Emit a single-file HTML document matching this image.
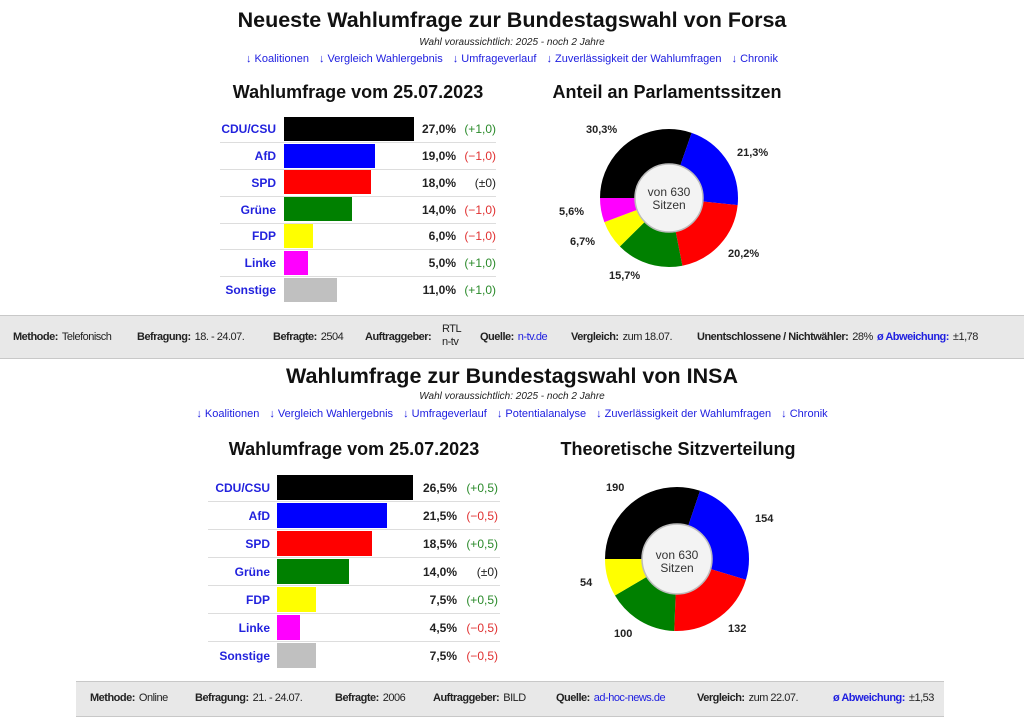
<!DOCTYPE html>
<html><head><meta charset="utf-8"><style>
body{margin:0;width:1024px;height:717px;background:#fff;font-family:"Liberation Sans",Arial,sans-serif;position:relative;overflow:hidden;color:#222}
.a{position:absolute;white-space:nowrap}
.t{font-weight:bold;font-size:21.5px;color:#111;text-align:center;left:0;width:1024px}
.s{font-style:italic;font-size:10px;text-align:center;left:0;width:1024px;color:#222}
.l{font-size:11px;color:#2020e0;text-align:center;left:0;width:1024px;word-spacing:0px}
.l span{margin:0 5px}
.h{font-weight:bold;font-size:18px;color:#111;text-align:center}
.row{position:absolute;height:1px;background:#ddd}
.pl{position:absolute;font-weight:bold;font-size:12px;color:#2222dd;text-align:right}
.bar{position:absolute}
.pv{position:absolute;font-weight:bold;font-size:12px;color:#222;text-align:right}
.pc{position:absolute;font-size:12px;text-align:right}
.g{color:#2a8a2a}.r{color:#e03030}.k{color:#222}
.f{position:absolute;background:#e8e8e8;border-top:1px solid #c8c8c8;border-bottom:1px solid #c8c8c8;font-size:11px;color:#222;letter-spacing:-0.5px}
.f b{font-weight:bold;margin-right:4px}
.f .it{position:absolute;top:14px;white-space:nowrap}
.bl{color:#2020e0}
.dl{position:absolute;font-weight:bold;font-size:11px;color:#222}
</style></head><body>

<div class="a t" style="top:8px">Neueste Wahlumfrage zur Bundestagswahl von Forsa</div>
<div class="a s" style="top:37px">Wahl voraussichtlich: 2025 - noch 2 Jahre</div>
<div class="a l" style="top:53px"><span>↓ Koalitionen</span><span>↓ Vergleich Wahlergebnis</span><span>↓ Umfrageverlauf</span><span>↓ Zuverlässigkeit der Wahlumfragen</span><span>↓ Chronik</span></div>
<div class="a h" style="left:208px;width:300px;top:82px">Wahlumfrage vom 25.07.2023</div>
<div class="a h" style="left:517px;width:300px;top:82px">Anteil an Parlamentssitzen</div>

<div class="row" style="left:220px;width:276px;top:142px"></div>
<div class="row" style="left:220px;width:276px;top:169px"></div>
<div class="row" style="left:220px;width:276px;top:196px"></div>
<div class="row" style="left:220px;width:276px;top:223px"></div>
<div class="row" style="left:220px;width:276px;top:249px"></div>
<div class="row" style="left:220px;width:276px;top:276px"></div>
<div class="pl" style="left:180px;width:96px;top:122px">CDU/CSU</div>
<div class="pl" style="left:180px;width:96px;top:149px">AfD</div>
<div class="pl" style="left:180px;width:96px;top:176px">SPD</div>
<div class="pl" style="left:180px;width:96px;top:203px">Grüne</div>
<div class="pl" style="left:180px;width:96px;top:229px">FDP</div>
<div class="pl" style="left:180px;width:96px;top:256px">Linke</div>
<div class="pl" style="left:180px;width:96px;top:283px">Sonstige</div>
<div class="bar" style="left:284px;top:117px;width:130px;height:24px;background:#000"></div>
<div class="bar" style="left:284px;top:144px;width:91px;height:24px;background:#00f"></div>
<div class="bar" style="left:284px;top:170px;width:87px;height:24px;background:#f00"></div>
<div class="bar" style="left:284px;top:197px;width:68px;height:24px;background:#008000"></div>
<div class="bar" style="left:284px;top:224px;width:29px;height:24px;background:#ff0"></div>
<div class="bar" style="left:284px;top:251px;width:24px;height:24px;background:#f0f"></div>
<div class="bar" style="left:284px;top:278px;width:53px;height:24px;background:#c0c0c0"></div>
<div class="pv" style="left:396px;width:60px;top:122px">27,0%</div>
<div class="pv" style="left:396px;width:60px;top:149px">19,0%</div>
<div class="pv" style="left:396px;width:60px;top:176px">18,0%</div>
<div class="pv" style="left:396px;width:60px;top:203px">14,0%</div>
<div class="pv" style="left:396px;width:60px;top:229px">6,0%</div>
<div class="pv" style="left:396px;width:60px;top:256px">5,0%</div>
<div class="pv" style="left:396px;width:60px;top:283px">11,0%</div>
<div class="pc g" style="left:446px;width:50px;top:122px">(+1,0)</div>
<div class="pc r" style="left:446px;width:50px;top:149px">(−1,0)</div>
<div class="pc k" style="left:446px;width:50px;top:176px">(±0)</div>
<div class="pc r" style="left:446px;width:50px;top:203px">(−1,0)</div>
<div class="pc r" style="left:446px;width:50px;top:229px">(−1,0)</div>
<div class="pc g" style="left:446px;width:50px;top:256px">(+1,0)</div>
<div class="pc g" style="left:446px;width:50px;top:283px">(+1,0)</div>

<svg class="a" style="left:0;top:0" width="1024" height="717">
<g transform="rotate(180 669 198)" fill="none" stroke-width="35">
<circle cx="669" cy="198" r="51.5" stroke="#000" stroke-dasharray="98.04 400" stroke-dashoffset="0"/>
<circle cx="669" cy="198" r="51.5" stroke="#00f" stroke-dasharray="68.92 400" stroke-dashoffset="-98.04"/>
<circle cx="669" cy="198" r="51.5" stroke="#f00" stroke-dasharray="65.36 400" stroke-dashoffset="-166.96"/>
<circle cx="669" cy="198" r="51.5" stroke="#008000" stroke-dasharray="50.80 400" stroke-dashoffset="-232.32"/>
<circle cx="669" cy="198" r="51.5" stroke="#ff0" stroke-dasharray="21.68 400" stroke-dashoffset="-283.12"/>
<circle cx="669" cy="198" r="51.5" stroke="#f0f" stroke-dasharray="18.84 400" stroke-dashoffset="-304.80"/>
</g>
<circle cx="669" cy="198" r="34" fill="#f2f2f2" fill-opacity="0.93" stroke="#bbb" stroke-width="1.5"/>
<text x="669" y="196" font-size="12" text-anchor="middle" fill="#333" font-family="Liberation Sans">von 630</text>
<text x="669" y="209" font-size="12" text-anchor="middle" fill="#333" font-family="Liberation Sans">Sitzen</text>

<g transform="rotate(180 677 559)" fill="none" stroke-width="38">
<circle cx="677" cy="559" r="53" stroke="#000" stroke-dasharray="100.43 400" stroke-dashoffset="0"/>
<circle cx="677" cy="559" r="53" stroke="#00f" stroke-dasharray="81.40 400" stroke-dashoffset="-100.43"/>
<circle cx="677" cy="559" r="53" stroke="#f00" stroke-dasharray="69.77 400" stroke-dashoffset="-181.83"/>
<circle cx="677" cy="559" r="53" stroke="#008000" stroke-dasharray="52.86 400" stroke-dashoffset="-251.60"/>
<circle cx="677" cy="559" r="53" stroke="#ff0" stroke-dasharray="29.2 400" stroke-dashoffset="-304.46"/>
</g>
<circle cx="677" cy="559" r="35" fill="#f2f2f2" fill-opacity="0.93" stroke="#bbb" stroke-width="1.5"/>
<text x="677" y="559" font-size="12" text-anchor="middle" fill="#333" font-family="Liberation Sans">von 630</text>
<text x="677" y="572" font-size="12" text-anchor="middle" fill="#333" font-family="Liberation Sans">Sitzen</text>
</svg>
<div class="dl" style="left:586px;top:124px">30,3%</div>
<div class="dl" style="left:737px;top:147px">21,3%</div>
<div class="dl" style="left:728px;top:248px">20,2%</div>
<div class="dl" style="left:609px;top:270px">15,7%</div>
<div class="dl" style="left:570px;top:236px">6,7%</div>
<div class="dl" style="left:559px;top:206px">5,6%</div>
<div class="dl" style="left:606px;top:482px">190</div>
<div class="dl" style="left:755px;top:513px">154</div>
<div class="dl" style="left:728px;top:623px">132</div>
<div class="dl" style="left:614px;top:628px">100</div>
<div class="dl" style="left:580px;top:577px">54</div>

<div class="f" style="left:0;width:1024px;top:315px;height:42px">
<div class="it" style="left:13px;top:15px"><b>Methode:</b>Telefonisch</div>
<div class="it" style="left:137px;top:15px"><b>Befragung:</b>18. - 24.07.</div>
<div class="it" style="left:273px;top:15px"><b>Befragte:</b>2504</div>
<div class="it" style="left:365px;top:15px"><b>Auftraggeber:</b></div>
<div class="it" style="left:442px;top:7px;line-height:13px">RTL<br>n-tv</div>
<div class="it" style="left:480px;top:15px"><b>Quelle:</b><span class="bl">n-tv.de</span></div>
<div class="it" style="left:571px;top:15px"><b>Vergleich:</b>zum 18.07.</div>
<div class="it" style="left:697px;top:15px"><b>Unentschlossene / Nichtwähler:</b>28%</div>
<div class="it" style="left:877px;top:15px"><b class="bl">ø Abweichung:</b>±1,78</div>
</div>

<div class="a t" style="top:364px">Wahlumfrage zur Bundestagswahl von INSA</div>
<div class="a s" style="top:391px">Wahl voraussichtlich: 2025 - noch 2 Jahre</div>
<div class="a l" style="top:408px"><span>↓ Koalitionen</span><span>↓ Vergleich Wahlergebnis</span><span>↓ Umfrageverlauf</span><span>↓ Potentialanalyse</span><span>↓ Zuverlässigkeit der Wahlumfragen</span><span>↓ Chronik</span></div>
<div class="a h" style="left:204px;width:300px;top:439px">Wahlumfrage vom 25.07.2023</div>
<div class="a h" style="left:528px;width:300px;top:439px">Theoretische Sitzverteilung</div>

<div class="row" style="left:208px;width:292px;top:501px"></div>
<div class="row" style="left:208px;width:292px;top:529px"></div>
<div class="row" style="left:208px;width:292px;top:557px"></div>
<div class="row" style="left:208px;width:292px;top:585px"></div>
<div class="row" style="left:208px;width:292px;top:613px"></div>
<div class="row" style="left:208px;width:292px;top:641px"></div>
<div class="pl" style="left:170px;width:100px;top:481px">CDU/CSU</div>
<div class="pl" style="left:170px;width:100px;top:509px">AfD</div>
<div class="pl" style="left:170px;width:100px;top:537px">SPD</div>
<div class="pl" style="left:170px;width:100px;top:565px">Grüne</div>
<div class="pl" style="left:170px;width:100px;top:593px">FDP</div>
<div class="pl" style="left:170px;width:100px;top:621px">Linke</div>
<div class="pl" style="left:170px;width:100px;top:649px">Sonstige</div>
<div class="bar" style="left:277px;top:475px;width:136px;height:25px;background:#000"></div>
<div class="bar" style="left:277px;top:503px;width:110px;height:25px;background:#00f"></div>
<div class="bar" style="left:277px;top:531px;width:95px;height:25px;background:#f00"></div>
<div class="bar" style="left:277px;top:559px;width:72px;height:25px;background:#008000"></div>
<div class="bar" style="left:277px;top:587px;width:39px;height:25px;background:#ff0"></div>
<div class="bar" style="left:277px;top:615px;width:23px;height:25px;background:#f0f"></div>
<div class="bar" style="left:277px;top:643px;width:39px;height:25px;background:#c0c0c0"></div>
<div class="pv" style="left:397px;width:60px;top:481px">26,5%</div>
<div class="pv" style="left:397px;width:60px;top:509px">21,5%</div>
<div class="pv" style="left:397px;width:60px;top:537px">18,5%</div>
<div class="pv" style="left:397px;width:60px;top:565px">14,0%</div>
<div class="pv" style="left:397px;width:60px;top:593px">7,5%</div>
<div class="pv" style="left:397px;width:60px;top:621px">4,5%</div>
<div class="pv" style="left:397px;width:60px;top:649px">7,5%</div>
<div class="pc g" style="left:448px;width:50px;top:481px">(+0,5)</div>
<div class="pc r" style="left:448px;width:50px;top:509px">(−0,5)</div>
<div class="pc g" style="left:448px;width:50px;top:537px">(+0,5)</div>
<div class="pc k" style="left:448px;width:50px;top:565px">(±0)</div>
<div class="pc g" style="left:448px;width:50px;top:593px">(+0,5)</div>
<div class="pc r" style="left:448px;width:50px;top:621px">(−0,5)</div>
<div class="pc r" style="left:448px;width:50px;top:649px">(−0,5)</div>

<div class="f" style="left:76px;width:868px;top:681px;height:34px">
<div class="it" style="left:14px;top:10px"><b>Methode:</b>Online</div>
<div class="it" style="left:119px;top:10px"><b>Befragung:</b>21. - 24.07.</div>
<div class="it" style="left:259px;top:10px"><b>Befragte:</b>2006</div>
<div class="it" style="left:357px;top:10px"><b>Auftraggeber:</b>BILD</div>
<div class="it" style="left:480px;top:10px"><b>Quelle:</b><span class="bl">ad-hoc-news.de</span></div>
<div class="it" style="left:621px;top:10px"><b>Vergleich:</b>zum 22.07.</div>
<div class="it" style="left:757px;top:10px"><b class="bl">ø Abweichung:</b>±1,53</div>
</div>
</body></html>
